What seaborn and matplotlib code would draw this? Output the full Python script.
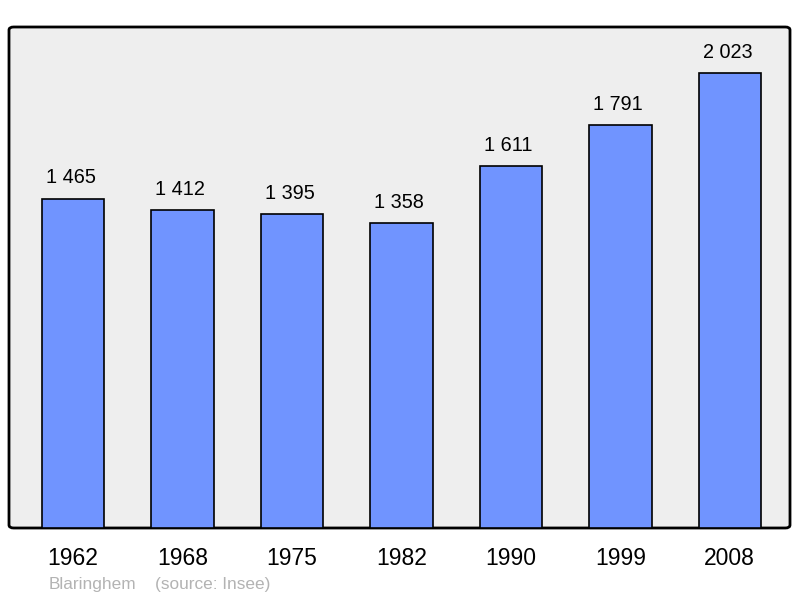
import matplotlib
matplotlib.use("Agg")
import matplotlib.pyplot as plt
import seaborn as sns
import pandas as pd
from matplotlib.patches import FancyBboxPatch

years = ["1962", "1968", "1975", "1982", "1990", "1999", "2008"]
population = [1465, 1412, 1395, 1358, 1611, 1791, 2023]
commune = "Blaringhem"
source = "(source: Insee)"

sns.set_style("white")
plt.rcParams["font.family"] = ["Liberation Sans", "DejaVu Sans"]

df = pd.DataFrame({"year": years, "population": population})

fig = plt.figure(figsize=(8, 5.98), dpi=100)
ax = fig.add_axes([9 / 800, 70 / 598, 781 / 800, 501 / 598])
ax.set_facecolor("none")

# rounded frame behind the bars
frame = FancyBboxPatch((0, 0), 1, 1, boxstyle="round,pad=0,rounding_size=0.006",
                       transform=ax.transAxes, facecolor="#eeeeee",
                       edgecolor="black", linewidth=2, zorder=0, clip_on=False)
ax.add_patch(frame)

sns.barplot(data=df, x="year", y="population", color="#7094ff", saturation=1,
            width=0.57, edgecolor="black", linewidth=1.2, ax=ax, zorder=2)

for i, v in enumerate(population):
    ax.annotate(f"{v:,}".replace(",", " "), (i - 0.02, v), xytext=(0, 8),
                textcoords="offset points", ha="center", va="bottom",
                fontsize=14.3, color="black")

ax.set_xlim(-0.585, 6.55)
ax.set_ylim(0, 2228)
ax.set_xlabel("")
ax.set_ylabel("")
ax.set_yticks([])
ax.tick_params(axis="x", length=0, pad=14, labelsize=16.5, labelcolor="black")
for s in ax.spines.values():
    s.set_visible(False)

fig.text(49 / 800, 1 - 584 / 598, commune, color="#b3b3b3", fontsize=12.4, va="center")
fig.text(155 / 800, 1 - 584 / 598, source, color="#b3b3b3", fontsize=12.4, va="center")

fig.savefig("out.png", dpi=100)
